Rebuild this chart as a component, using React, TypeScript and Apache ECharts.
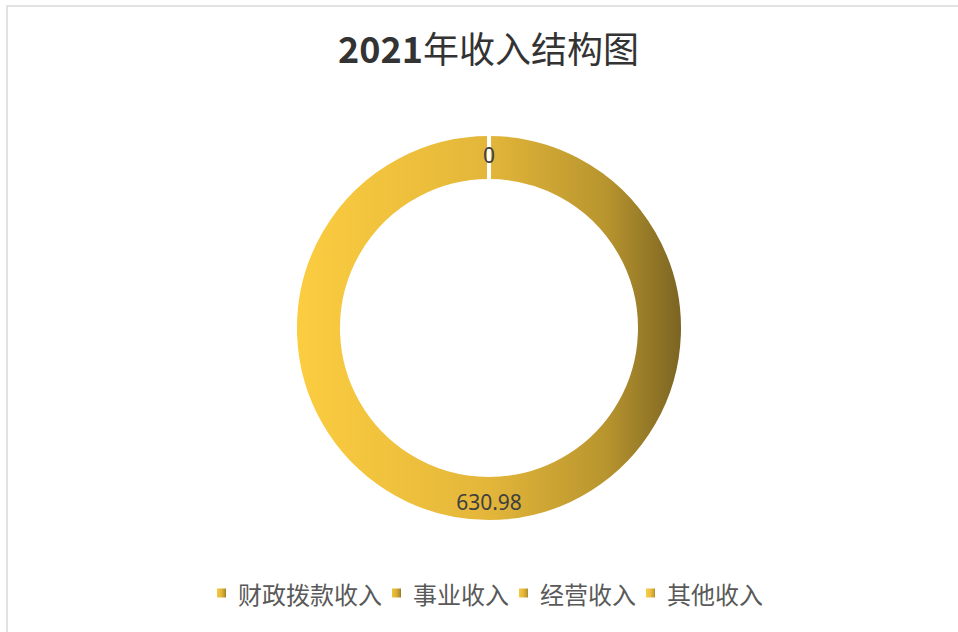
import React, { useEffect, useRef } from "react";
import * as echarts from "echarts";

const titleYear = "2021";
const titleRest = "年收入结构图";
const categories = ["财政拨款收入", "事业收入", "经营收入", "其他收入"];
const values = [630.98, 0, 0, 0];

const grad = (c0: string, c1: string, c2: string, c3: string) => ({
  type: "linear",
  x: 0,
  y: 0,
  x2: 1,
  y2: 0,
  colorStops: [
    { offset: 0, color: c0 },
    { offset: 0.5, color: c1 },
    { offset: 0.8, color: c2 },
    { offset: 1, color: c3 },
  ],
});

const colors = [
  grad("#FCCD40", "#E3B63A", "#B8952E", "#7A6322"),
  grad("#F5C63C", "#D9AE37", "#B08E2C", "#7A6322"),
  grad("#FCCD40", "#E3B63A", "#C29C30", "#8A7026"),
  grad("#FCD048", "#EAC040", "#C9A233", "#967A28"),
];

export default function App() {
  const ref = useRef<HTMLDivElement>(null);
  useEffect(() => {
    if (!ref.current) return;
    const chart = echarts.init(ref.current, undefined, { renderer: "svg" });
    chart.setOption({
      animation: false,
      backgroundColor: "#ffffff",
      title: {
        text: `{a|${titleYear}}{b|${titleRest}}`,
        left: 333,
        top: 24,
        textStyle: {
          rich: {
            a: {
              fontSize: 36,
              fontWeight: "bold",
              color: "#333333",
              fontFamily: "'Noto Sans CJK SC', sans-serif",
            },
            b: {
              fontSize: 36,
              fontWeight: "normal",
              color: "#333333",
              fontFamily: "'Noto Sans CJK SC', sans-serif",
            },
          },
        },
      },
      graphic: [
        {
          type: "rect",
          shape: { x: 7, y: 6, width: 1000, height: 700 },
          style: { fill: "none", stroke: "#d9d9d9", lineWidth: 1.5 },
          silent: true,
        },
      ],
      legend: {
        bottom: 22,
        left: 210,
        itemWidth: 11,
        itemHeight: 11,
        itemGap: 8,
        icon: "rect",
        textStyle: {
          fontSize: 24,
          color: "#595959",
          padding: [0, 0, 0, 6],
          fontFamily: "'Noto Sans CJK SC', sans-serif",
        },
        data: categories,
      },
      series: [
        {
          type: "pie",
          center: [489, 328],
          radius: [147, 194],
          startAngle: 90,
          clockwise: true,
          avoidLabelOverlap: false,
          labelLayout: { hideOverlap: true },
          itemStyle: { borderColor: "#ffffff", borderWidth: 4 },
          label: {
            show: true,
            position: "inside",
            formatter: "{c}",
            fontSize: 21,
            color: "#404040",
            fontFamily: "'Noto Sans', sans-serif",
          },
          labelLine: { show: false },
          emphasis: { disabled: true },
          data: categories.map((name, i) => ({
            name,
            value: values[i],
            itemStyle: { color: colors[i] },
          })),
        },
      ],
    });
    return () => chart.dispose();
  }, []);
  return (
    <div
      ref={ref}
      style={{ position: "fixed", left: 0, top: 0, width: 958, height: 632 }}
    />
  );
}
